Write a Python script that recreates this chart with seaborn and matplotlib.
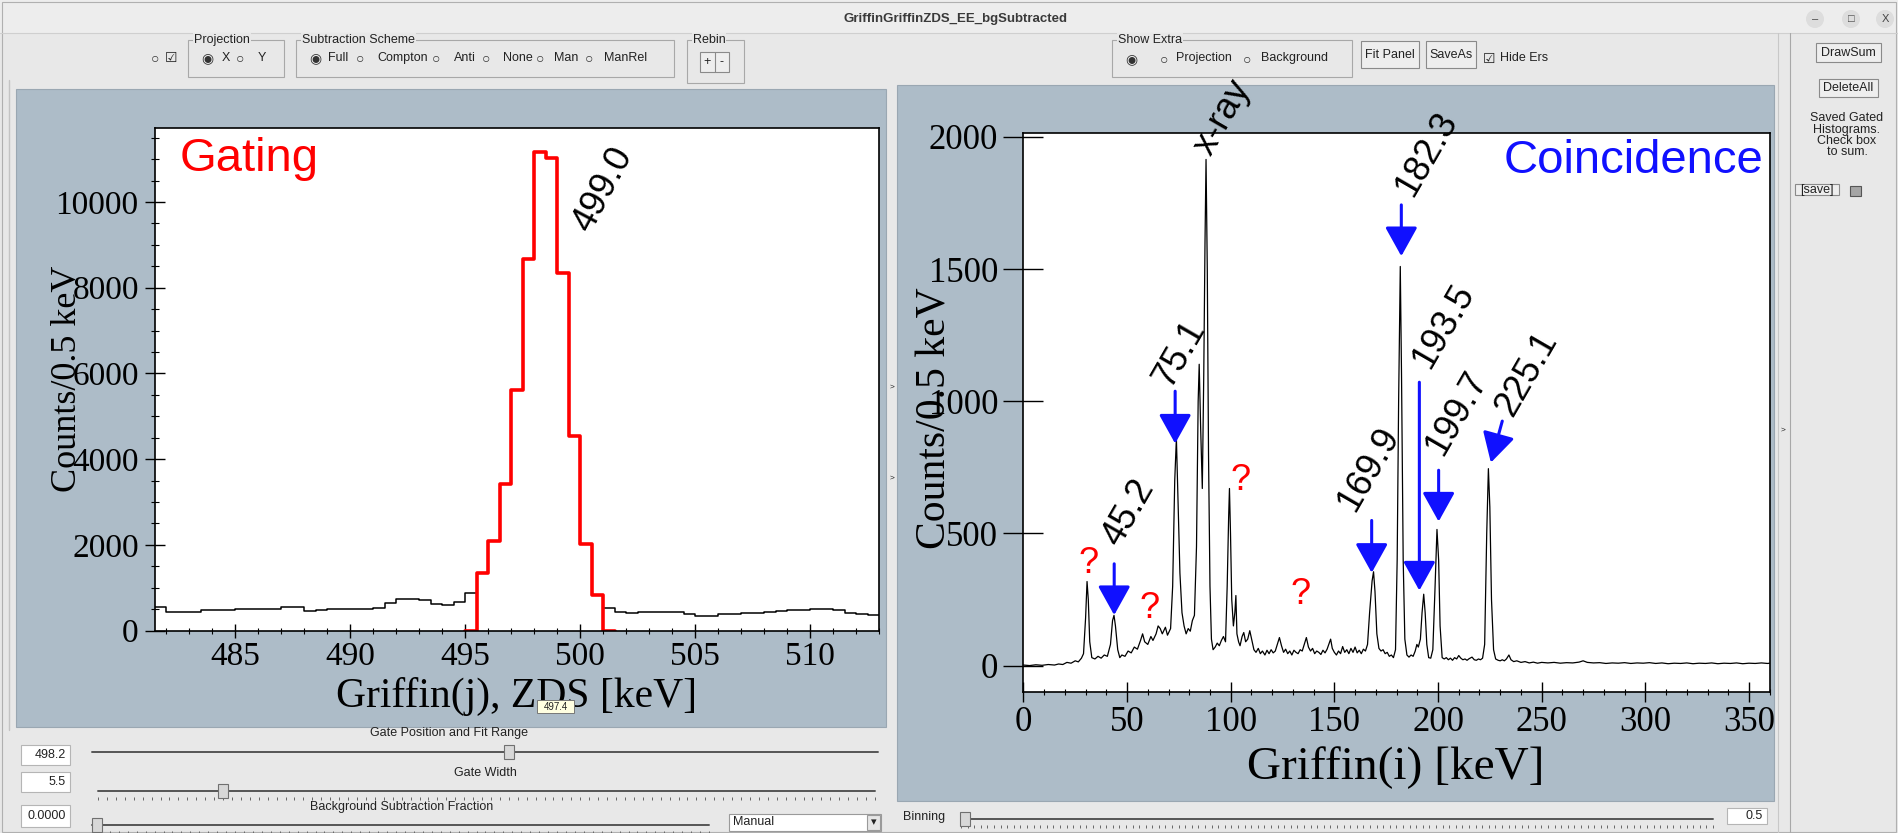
import matplotlib
matplotlib.use("Agg")
import matplotlib.pyplot as plt
import numpy as np
import pandas as pd
import seaborn as sns
from matplotlib.patches import Rectangle, Circle
from matplotlib.ticker import MultipleLocator

sns.set_theme(style="white", rc={"text.color": "black", "axes.labelcolor": "black",
                                  "xtick.color": "black", "ytick.color": "black",
                                  "axes.edgecolor": "black"})
plt.rcParams["font.family"] = ["Liberation Serif", "DejaVu Serif"]

SANS = ["Liberation Sans", "DejaVu Sans"]
PANEL = "#adbcc8"
WINDOW = "#e8e8e8"
BLUE = "#1010ff"
RED = "#ff0000"
GUI = 9.0

# ---------------- gating spectrum (left), 0.5 keV bins ----------------
BIN = 0.5
bg_low_start = 481.5
bg_low_counts = [560, 435, 435, 435, 470, 475, 490, 500, 505, 510, 500, 545, 555, 465,
                 490, 495, 495, 500, 505, 515, 650, 740, 745, 720, 620, 600, 670, 880]
gate_start = 495.5
gate_counts = [1350, 2100, 3420, 5610, 8660, 11170, 11020, 8350, 4530, 2025, 840]
bg_high_start = 501.0
bg_high_counts = [520, 440, 420, 430, 440, 440, 440, 380, 350, 350, 380, 390,
                  410, 420, 440, 450, 470, 480, 500, 510, 470, 420, 390, 370]
gate_label = "499.0"
gate_label_e, gate_label_c = 501.0, 10300

# ---------------- coincidence spectrum (right) ----------------
spec_e = [0, 3, 6, 9, 12, 15, 17, 19, 21, 23, 25, 26.5, 28, 29, 30, 30.7, 31.3, 32, 33,
          34.5, 36, 37.5, 39, 40.5, 42, 43, 43.7, 44.4, 45.5, 46.5, 47.5, 49, 50.5, 52,
          53.5, 55, 56.5, 57.5, 58.5, 60, 61.5, 62.5, 64, 65, 66, 67, 68.5, 69.5, 71,
          72, 73, 73.8, 74.5, 75.5, 76.5, 77.5, 78.5, 79.5, 80.5, 81.5, 82.5, 83.5,
          84.3, 84.8, 85.5, 86.3, 87, 87.6, 88.1, 88.7, 89.3, 90, 90.7, 91.5, 92.5,
          93.5, 94.5, 95.5, 96.5, 97.5, 98.3, 99.0, 99.4, 99.9, 100.5, 101.3, 102.0,
          102.5, 103, 103.8, 104.5, 105.5, 106.3, 107.2, 108.2, 109.2, 110.2, 111.2,
          112.2, 113.3, 114.3, 115.3, 116.5, 117.5, 118.5, 119.5, 120.5, 121.5, 122.5,
          123.5, 124.5, 125.5, 126.5, 127.5, 128.5, 129.5, 130.5, 131.5, 132.5, 133.5,
          134.5, 135.5, 136.5, 137.5, 138.5, 139.5, 140.5, 141.5, 142.5, 143.5, 144.5,
          145.5, 146.5, 147.5, 148.2, 149, 150, 151, 152, 153, 154, 155, 156, 157, 158,
          159, 160, 161, 162, 163, 164, 165, 166, 167, 168.2, 168.9, 169.6, 170.5,
          171.5, 172.5, 173.5, 174.5, 175.5, 176.5, 177.5, 178.5, 179.5, 180.3, 181,
          181.8, 182.4, 183.2, 184, 185, 186, 187, 188, 189, 189.8, 190.5, 191.5, 192.3,
          193.1, 193.8, 194.6, 195.5, 196.5, 197.5, 198.5, 199.5, 200.3, 201, 202, 203,
          204, 205, 206, 207, 208, 209, 210, 211, 212, 213, 214, 215, 216.4, 217.5,
          218.5, 219.5, 220.5, 221.5, 222.5, 223.5, 224.3, 225, 225.8, 226.8, 227.8,
          229, 230, 231, 232, 233, 234.2, 235.2, 236.5, 238, 240, 242, 244, 246, 248,
          250, 253, 256, 259, 262, 265, 268, 270, 272, 275, 278, 281, 284, 287, 290,
          293, 296, 299, 302, 305, 308, 311, 314, 317, 320, 323, 326, 329, 332, 335,
          338, 341, 344, 347, 350, 353, 356, 359, 360]
spec_c = [2, 0, 3, 1, 4, 2, 6, 4, 12, 9, 18, 14, 28, 45, 180, 318, 250, 90, 30,
          25, 35, 28, 40, 35, 80, 170, 190, 150, 60, 30, 40, 35, 55, 48,
          70, 62, 95, 120, 90, 80, 110, 95, 120, 150, 140, 120, 145, 115, 140,
          300, 700, 860, 650, 350, 200, 150, 120, 140, 130, 170, 190, 450,
          1000, 1140, 900, 670, 1100, 1600, 1915, 1500, 800, 300, 100, 60, 70,
          85, 75, 95, 110, 90, 300, 560, 670, 500, 250, 150, 200,
          265, 120, 90, 75, 110, 125, 90, 100, 132, 95, 60,
          50, 65, 45, 55, 40, 58, 45, 60, 48, 55, 80,
          106, 75, 50, 62, 45, 55, 40, 58, 50, 45, 60,
          55, 80, 106, 70, 55, 65, 45, 55, 50, 42, 58,
          48, 62, 85, 100, 65, 50, 40, 55, 45, 72, 50, 60, 45, 65,
          50, 70, 48, 58, 45, 62, 55, 80, 200, 320, 355, 280, 120,
          65, 55, 60, 45, 50, 35, 40, 30, 60, 400, 1000,
          1510, 1100, 400, 100, 40, 32, 40, 35, 55, 80, 70, 100, 200,
          270, 200, 80, 30, 28, 60, 280, 515, 400, 150, 30, 25,
          30, 22, 28, 20, 30, 25, 38, 28, 22, 25, 20, 26, 32, 22,
          20, 25, 22, 28, 80, 500, 745, 600, 250, 60, 25,
          20, 18, 22, 18, 25, 40, 22, 15, 18, 12, 15, 10, 13, 9,
          12, 10, 12, 9, 11, 10, 13, 18, 12, 10, 11, 8, 10, 9, 11,
          8, 10, 9, 11, 8, 10, 7, 9, 8, 10, 7, 9, 8, 10, 7,
          9, 8, 10, 7, 9, 8, 10, 8, 9]

peak_labels = ["45.2", "75.1", "x-ray", "169.9", "182.3", "193.5", "199.7", "225.1"]
peak_label_e = [50.7, 75.4, 95.9, 166.3, 194.6, 202.8, 208.8, 242.5]
peak_label_c = [579, 1178, 2073, 744, 1937, 1284, 954, 1102]

arrow_tip_e = [43.8, 73.2, 168.0, 182.3, 191.0, 200.3, 225.5]
arrow_tip_c = [191, 840, 351, 1549, 284, 545, 768]
arrow_tail_e = [43.8, 73.2, 168.0, 182.3, 191.0, 200.3, 231.0]
arrow_tail_c = [385, 1038, 549, 1743, 1072, 739, 925]

unknown_e = [31.6, 60.8, 104.8, 133.6]
unknown_c = [385, 217, 700, 268]

W, H = 1898, 833
fig = plt.figure(figsize=(W / 100, H / 100), dpi=100, facecolor=WINDOW)

# background overlay in pixel coordinates (y down)
ui = fig.add_axes([0, 0, 1, 1], zorder=0)
ui.set_xlim(0, W)
ui.set_ylim(H, 0)
ui.axis("off")
ui.patch.set_visible(False)


def rect(ax, x0, y0, x1, y1, fc="none", ec="#9a9a9a", lw=0.8, z=1):
    ax.add_patch(Rectangle((x0, y0), x1 - x0, y1 - y0, fc=fc, ec=ec, lw=lw, zorder=z))


def txt(ax, x, y, s, size=GUI, ha="left", color="#222222", weight="normal", z=3, **kw):
    ax.text(x, y, s, fontsize=size, ha=ha, va="center", family=SANS, color=color,
            weight=weight, zorder=z, **kw)


def button(x0, y0, x1, y1, s, size=GUI):
    rect(ui, x0, y0, x1, y1, fc="#eeeeee", ec="#8a8a8a", lw=0.8)
    txt(ui, (x0 + x1) / 2, (y0 + y1) / 2, s, size=size, ha="center")


def group(x0, y0, x1, y1, s):
    rect(ui, x0, y0, x1, y1, ec="#a8a8a8", lw=0.8)
    txt(ui, x0 + 6, y0, s, bbox=dict(fc=WINDOW, ec="none", pad=0.5))


def field(x0, y0, x1, y1, s):
    rect(ui, x0, y0, x1, y1, fc="white", ec="#b5b5b5", lw=0.8)
    txt(ui, x1 - 4, (y0 + y1) / 2, s, ha="right")


def radio(x, y, on=False):
    txt(ui, x, y, "◉" if on else "○", size=10, color="#333333")


def slider(x0, x1, y, thumb, dots=None):
    ui.plot([x0, x1], [y, y], color="#555555", lw=1.4, zorder=2)
    rect(ui, thumb - 5, y - 7, thumb + 5, y + 7, fc="#d8d8d8", ec="#707070", lw=0.8, z=3)
    if dots is not None:
        ui.vlines(np.linspace(x0, x1, dots), y + 6, y + 9, color="#666666", lw=0.7, zorder=2)


# window frame and title bar
rect(ui, 0, 0, W, 33, fc="#ededed", ec="none", z=0)
ui.plot([0, W], [33, 33], color="#cfcfcf", lw=0.8)
rect(ui, 2, 2, W - 2, H - 1, ec="#b0b0b0", lw=0.8)
txt(ui, 956, 19, "GriffinGriffinZDS_EE_bgSubtracted", size=9.5, ha="center",
    weight="bold", color="#3a3a3a")
for cx, g in [(1815, "–"), (1851, "□"), (1885, "X")]:
    ui.add_patch(Circle((cx, 19), 9, fc="#dddddd", ec="none", zorder=2))
    txt(ui, cx, 19, g, size=8, ha="center", color="#444444")

# top toolbar
radio(151, 58)
txt(ui, 165, 58, "☑", size=10)
group(188, 40, 284, 77, "Projection")
radio(201, 58, on=True)
txt(ui, 222, 58, "X")
radio(236, 58)
txt(ui, 258, 58, "Y")
group(296, 40, 674, 77, "Subtraction Scheme")
for xr, xs, s, on in [(309, 328, "Full", True), (356, 377, "Compton", False),
                      (432, 454, "Anti", False), (482, 503, "None", False),
                      (536, 554, "Man", False), (585, 604, "ManRel", False)]:
    radio(xr, 58, on)
    txt(ui, xs, 58, s)
group(687, 40, 744, 83, "Rebin")
rect(ui, 700, 52, 729, 72, fc="#eeeeee", ec="#8a8a8a")
ui.plot([715, 715], [52, 72], color="#8a8a8a", lw=0.8)
txt(ui, 707.5, 62, "+", ha="center")
txt(ui, 722, 62, "-", ha="center")

group(1112, 40, 1352, 77, "Show Extra")
radio(1125, 59, on=True)
radio(1160, 59)
txt(ui, 1176, 58, "Projection")
radio(1243, 59)
txt(ui, 1261, 58, "Background")
button(1361, 41, 1419, 68, "Fit Panel")
button(1426, 41, 1476, 68, "SaveAs")
txt(ui, 1483, 59, "☑", size=10)
txt(ui, 1500, 58, "Hide Ers")

# right side bar
ui.plot([1778, 1778], [33, H], color="#c8c8c8", lw=0.8)
ui.plot([1790, 1790], [33, H], color="#a8a8a8", lw=0.8)
txt(ui, 1783, 430, ">", size=6, ha="center")
button(1816, 43, 1881, 62, "DrawSum")
button(1819, 79, 1878, 97, "DeleteAll")
for yy, s in [(118, "Saved Gated"), (130, "Histograms."), (141, "Check box"), (152, "to sum.")]:
    txt(ui, 1847, yy, s, ha="center")
button(1795, 184, 1839, 195, "[save]")
rect(ui, 1850, 186, 1861, 196, fc="#a5a5a5", ec="#555555")

# canvas panels
rect(ui, 16, 89, 886, 727, fc=PANEL, ec="#9aa7b2", lw=0.8, z=1)
rect(ui, 897, 85, 1774, 801, fc=PANEL, ec="#9aa7b2", lw=0.8, z=1)
ui.plot([9, 9], [80, 730], color="#c4c4c4", lw=1.0)
txt(ui, 892, 387, ">", size=6, ha="center")
txt(ui, 892, 478, ">", size=6, ha="center")

# bottom left controls
txt(ui, 449, 733, "Gate Position and Fit Range", ha="center")
field(21, 745, 70, 765, "498.2")
slider(92, 878, 752, 509)
txt(ui, 485, 773, "Gate Width", ha="center")
field(21, 772, 70, 792, "5.5")
slider(98, 875, 791, 223, dots=88)
txt(ui, 402, 807, "Background Subtraction Fraction", ha="center")
field(21, 805, 70, 827, "0.0000")
slider(92, 709, 825, 97, dots=70)
rect(ui, 729, 814, 881, 831, fc="white", ec="#9a9a9a")
txt(ui, 733, 822, "Manual")
rect(ui, 867, 815, 880, 830, fc="#e6e6e6", ec="#9a9a9a")
txt(ui, 873.5, 822, "▾", size=8, ha="center")

# bottom right controls
txt(ui, 903, 817, "Binning")
slider(961, 1713, 819, 965, dots=115)
field(1727, 808, 1767, 824, "0.5")

# ---------------- left axes: gating ----------------
axL = fig.add_axes([155 / W, 1 - 630.5 / H, 724 / W, 503 / H], zorder=2)
axL.set_facecolor("white")


def step_hist(ax, start, counts, color, lw):
    edges = start + BIN * np.arange(len(counts) + 1)
    df = pd.DataFrame({"energy": edges[:-1] + BIN / 2, "counts": counts})
    sns.histplot(data=df, x="energy", weights="counts", bins=list(edges), element="step",
                 fill=False, color=color, linewidth=lw, ax=ax)


step_hist(axL, bg_low_start, bg_low_counts, "black", 1.1)
step_hist(axL, bg_high_start, bg_high_counts, "black", 1.1)
step_hist(axL, gate_start - BIN, [0] + gate_counts + [0], RED, 2.6)

axL.set_xlim(481.5, 513)
axL.set_ylim(0, 11740)
axL.xaxis.set_major_locator(MultipleLocator(5))
axL.xaxis.set_minor_locator(MultipleLocator(1))
axL.yaxis.set_major_locator(MultipleLocator(2000))
axL.yaxis.set_minor_locator(MultipleLocator(500))
axL.tick_params(axis="x", which="major", direction="inout", length=9.5, width=1.0,
                labelsize=24, pad=3, bottom=True, top=False)
axL.tick_params(axis="x", which="minor", direction="inout", length=5, width=0.8, bottom=True)
axL.tick_params(axis="y", which="major", direction="inout", length=14.4, width=1.0,
                labelsize=24, pad=4.5, left=True, right=False)
axL.tick_params(axis="y", which="minor", direction="inout", length=5.8, width=0.8, left=True)
for sp in axL.spines.values():
    sp.set_linewidth(1.2)
    sp.set_color("black")
axL.set_xlabel("Griffin(j), ZDS [keV]", fontsize=30)
axL.xaxis.set_label_coords(0.5, -0.132)
axL.xaxis.label.set_va("center")
axL.set_ylabel("Counts/0.5 keV", fontsize=26)
axL.yaxis.set_label_coords(-0.121, 0.5)
axL.yaxis.label.set_va("center")

axL.text(0.0345, 0.9145, "Gating", transform=axL.transAxes, color=RED, fontsize=34,
         family=SANS, ha="left", va="baseline")
axL.text(gate_label_e, gate_label_c, gate_label, rotation=62, fontsize=26, family=SANS,
         ha="center", va="center")

# ---------------- right axes: coincidence ----------------
axR = fig.add_axes([1023.4 / W, 1 - 692 / H, 746.3 / W, 559 / H], zorder=2)
axR.set_facecolor("white")
sns.lineplot(x=spec_e, y=spec_c, color="black", linewidth=0.9, estimator=None,
             sort=False, ax=axR)
axR.set_xlim(0, 360)
axR.set_ylim(-100, 2015)
axR.xaxis.set_major_locator(MultipleLocator(50))
axR.xaxis.set_minor_locator(MultipleLocator(10))
axR.yaxis.set_major_locator(MultipleLocator(500))
axR.tick_params(axis="x", which="major", direction="inout", length=13.7, width=1.0,
                labelsize=25, pad=3, bottom=True, top=False)
axR.tick_params(axis="x", which="minor", direction="inout", length=5, width=0.8, bottom=True)
axR.tick_params(axis="y", which="major", direction="inout", length=29.5, width=1.0,
                labelsize=25, pad=3.5, left=True, right=False)
for sp in axR.spines.values():
    sp.set_linewidth(1.2)
    sp.set_color("black")
axR.set_xlabel("Griffin(i) [keV]", fontsize=34)
axR.xaxis.set_label_coords(0.499, -0.136)
axR.xaxis.label.set_va("center")
axR.set_ylabel("Counts/0.5 keV", fontsize=30)
axR.yaxis.set_label_coords(-0.118, 0.49)
axR.yaxis.label.set_va("center")

axR.text(0.991, 0.928, "Coincidence", transform=axR.transAxes, color=BLUE, fontsize=34,
         family=SANS, ha="right", va="baseline")
for s, e, c in zip(peak_labels, peak_label_e, peak_label_c):
    axR.text(e, c, s, rotation=60, fontsize=26, family=SANS, ha="center", va="center",
             zorder=4)
for te, tc, ae, ac in zip(arrow_tip_e, arrow_tip_c, arrow_tail_e, arrow_tail_c):
    axR.annotate("", xy=(te, tc), xytext=(ae, ac),
                 arrowprops=dict(arrowstyle="-|>,head_length=1.8,head_width=1.0",
                                 mutation_scale=10, color=BLUE, lw=2.2,
                                 shrinkA=0, shrinkB=0), zorder=5)
for e, c in zip(unknown_e, unknown_c):
    axR.text(e, c, "?", color=RED, fontsize=26, family=SANS, ha="center", va="center")

# foreground overlay: hover tooltip
fg = fig.add_axes([0, 0, 1, 1], zorder=6)
fg.set_xlim(0, W)
fg.set_ylim(H, 0)
fg.axis("off")
fg.patch.set_visible(False)
rect(fg, 537, 700, 574, 713, fc="#ffffe1", ec="#777777", lw=0.7, z=5)
txt(fg, 555.5, 706.5, "497.4", size=7, ha="center", z=6)

fig.savefig("out.png", dpi=100, facecolor=WINDOW)
